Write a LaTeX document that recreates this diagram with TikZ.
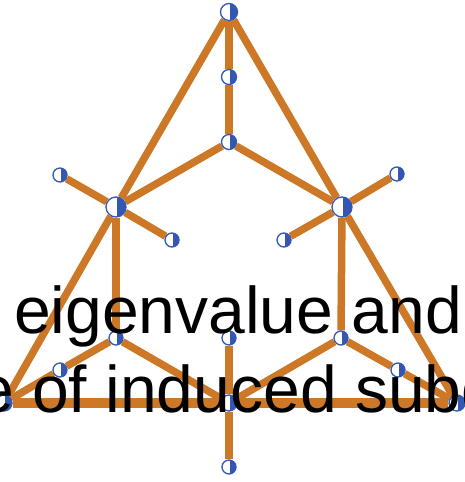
\documentclass[tikz,border=0pt]{standalone}
\usepackage{fontspec}
\setmainfont{Liberation Sans}
\usetikzlibrary{backgrounds}
\definecolor{edgeor}{RGB}{204,120,38}
\definecolor{vblue}{RGB}{52,88,178}
\tikzset{
  vtx/.style={circle, draw=vblue, fill=white, line width=1.3pt, inner sep=0pt, minimum size=#1,
    path picture={\fill[vblue] ([xshift=0.6pt]path picture bounding box.north) rectangle (path picture bounding box.south east);}},
  vtx/.default=14pt,
  edge/.style={draw=edgeor, line width=7.5pt},
  lbl/.style={anchor=base west, inner sep=0pt, font=\fontsize{66}{79}\selectfont, text=black}
}
\begin{document}
\begin{tikzpicture}[x=1pt,y=-1pt]
\useasboundingbox (0,0) rectangle (465,482);
\clip (0,0) rectangle (465,482);
% vertices
\node[vtx=17pt] (T) at (229,12) {};
\node[vtx=15pt] (A1) at (229,77) {};
\node[vtx=15pt] (A2) at (229,142) {};
\node[vtx=20pt] (L) at (116,207) {};
\node[vtx=20pt] (R) at (342,207) {};
\node[vtx] (LL) at (60,175) {};
\node[vtx] (LR) at (172,240) {};
\node[vtx] (RR) at (397,174) {};
\node[vtx] (RL) at (284,240) {};
\node[vtx] (Lm) at (116,338) {};
\node[vtx] (Lb) at (60,370) {};
\node[vtx] (Rm) at (341,338) {};
\node[vtx] (Rb) at (398,370) {};
\node[vtx=16pt] (BL) at (4,403) {};
\node[vtx=16pt] (BR) at (457,403) {};
\node[vtx] (Cm) at (229,338) {};
\node[vtx=16pt] (BC) at (229,403) {};
\node[vtx] (Cb) at (229,467) {};
% edges
\begin{scope}[on background layer]
\fill[white] (0,0) rectangle (465,482);
\draw[edge] (T) -- (A1);
\draw[edge] (A1) -- (A2);
\draw[edge] (A2) -- (L);
\draw[edge] (A2) -- (R);
\draw[edge] (T) -- (L);
\draw[edge] (T) -- (R);
\draw[edge] (L) -- (BL);
\draw[edge] (R) -- (BR);
\draw[edge] (L) -- (LL);
\draw[edge] (L) -- (LR);
\draw[edge] (R) -- (RR);
\draw[edge] (R) -- (RL);
\draw[edge] (L) -- (Lm);
\draw[edge] (R) -- (Rm);
\draw[edge] (Lm) -- (Lb);
\draw[edge] (Lb) -- (BL);
\draw[edge] (Rm) -- (Rb);
\draw[edge] (Rb) -- (BR);
\draw[edge] (Lm) -- (BC);
\draw[edge] (Rm) -- (BC);
\draw[edge, line width=9.5pt] (BL) -- (BC);
\draw[edge, line width=9.5pt] (BC) -- (BR);
\draw[edge] (Cm) -- (BC);
\draw[edge] (BC) -- (Cb);
\end{scope}
% text
\node[lbl] (t1) at (14,333) {eigenvalue and};
\node[lbl] (t2) at (-23,412) {e of induced subg};
\end{tikzpicture}
\end{document}
